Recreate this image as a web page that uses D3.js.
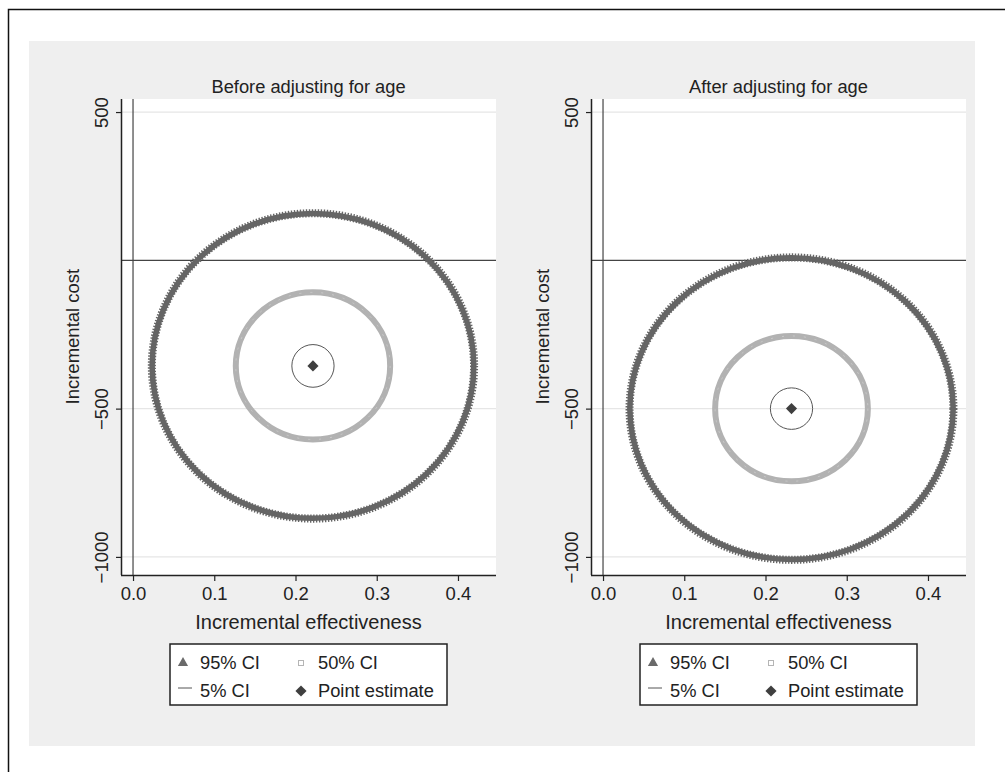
<!DOCTYPE html>
<html>
<head>
<meta charset="utf-8">
<script src="https://cdn.jsdelivr.net/npm/d3@7"></script>
<style>
  body { margin: 0; background: #fff; }
  text { font-family: "Liberation Sans", Arial, sans-serif; fill: #222; }
</style>
</head>
<body>
<script>
// data
const panelTitles = ["Before adjusting for age", "After adjusting for age"];
const pointX = [0.2215, 0.232];
const pointY = [-356, -500];
const ci95RadX = [0.198, 0.199];
const ci95RadY = [514, 509];
const ci50RadX = [0.095, 0.094];
const ci50RadY = [248, 245];
const ci5RadX = [0.026, 0.026];
const ci5RadY = [72, 70];
const xTicks = [0.0, 0.1, 0.2, 0.3, 0.4];
const yTicks = [500, -500, -1000];
const legendLabels = ["95% CI", "50% CI", "5% CI", "Point estimate"];

const w = 1005;
const h = 772;

const svg = d3.select("body")
              .append("svg")
              .attr("width", w)
              .attr("height", h);

// outer frame + grey graph region
svg.append("path")
   .attr("d", "M8.5,780 L8.5,9.5 L1010,9.5")
   .attr("fill", "none")
   .attr("stroke", "#111")
   .attr("stroke-width", 1.5);

svg.append("rect")
   .attr("x", 29).attr("y", 41)
   .attr("width", 946).attr("height", 705)
   .attr("fill", "#efefef");

const pw = 375;
const ph = 476;
const offsets = [121, 591];
const plotTop = 99;

// rotated square = stata diamond
const diamond = d3.symbol().type(d3.symbolSquare).size(62);

function drawPanel(i) {
   const left = offsets[i];
   const g = svg.append("g").attr("transform", `translate(${left}, ${plotTop})`);

   const x = d3.scaleLinear().domain([-0.0148, 0.4468]).range([0, pw]);
   const y = d3.scaleLinear().domain([-1061, 544]).range([ph, 0]);

   g.append("rect")
    .attr("width", pw).attr("height", ph)
    .attr("fill", "#fff");

   // grid lines
   g.selectAll(".grid")
    .data(yTicks)
    .enter()
    .append("line")
    .attr("x1", 0).attr("x2", pw)
    .attr("y1", d => y(d)).attr("y2", d => y(d))
    .attr("stroke", "#e6e6e6")
    .attr("stroke-width", 1.2);

   // reference lines at 0
   g.append("line")
    .attr("x1", 0).attr("x2", pw)
    .attr("y1", y(0)).attr("y2", y(0))
    .attr("stroke", "#444").attr("stroke-width", 1.2);
   g.append("line")
    .attr("x1", x(0)).attr("x2", x(0))
    .attr("y1", 0).attr("y2", ph)
    .attr("stroke", "#444").attr("stroke-width", 1.2);

   const cx = x(pointX[i]);
   const cy = y(pointY[i]);
   const kx = x(1) - x(0);
   const ky = y(0) - y(1);

   // 95% ring: solid band plus serrated edges
   g.append("ellipse")
    .attr("cx", cx).attr("cy", cy)
    .attr("rx", ci95RadX[i] * kx).attr("ry", ci95RadY[i] * ky)
    .attr("fill", "none")
    .attr("stroke", "#656565")
    .attr("stroke-width", 5.5);
   g.append("ellipse")
    .attr("cx", cx).attr("cy", cy)
    .attr("rx", ci95RadX[i] * kx + 2.8).attr("ry", ci95RadY[i] * ky + 2.8)
    .attr("fill", "none")
    .attr("stroke", "#656565")
    .attr("stroke-width", 3)
    .attr("stroke-dasharray", "1.4 1.6");
   g.append("ellipse")
    .attr("cx", cx).attr("cy", cy)
    .attr("rx", ci95RadX[i] * kx - 2.8).attr("ry", ci95RadY[i] * ky - 2.8)
    .attr("fill", "none")
    .attr("stroke", "#656565")
    .attr("stroke-width", 2)
    .attr("stroke-dasharray", "1.4 1.6");

   // 50% ring
   g.append("ellipse")
    .attr("cx", cx).attr("cy", cy)
    .attr("rx", ci50RadX[i] * kx).attr("ry", ci50RadY[i] * ky)
    .attr("fill", "none")
    .attr("stroke", "#b2b2b2")
    .attr("stroke-width", 6);
   g.append("ellipse")
    .attr("cx", cx).attr("cy", cy)
    .attr("rx", ci50RadX[i] * kx).attr("ry", ci50RadY[i] * ky)
    .attr("fill", "none")
    .attr("stroke", "#cacaca")
    .attr("stroke-width", 1)
    .attr("stroke-dasharray", "2 9");

   // 5% ring
   g.append("ellipse")
    .attr("cx", cx).attr("cy", cy)
    .attr("rx", ci5RadX[i] * kx).attr("ry", ci5RadY[i] * ky)
    .attr("fill", "none")
    .attr("stroke", "#555")
    .attr("stroke-width", 1);

   // point estimate
   g.append("path")
    .attr("d", diamond())
    .attr("transform", `translate(${cx}, ${cy}) rotate(45)`)
    .attr("fill", "#3f3f3f");

   // axes
   const xAxis = d3.axisBottom(x)
                   .tickValues(xTicks)
                   .tickSize(6)
                   .tickFormat(d3.format(".1f"));
   const gx = g.append("g")
               .attr("transform", `translate(0, ${ph})`)
               .call(xAxis);
   gx.select(".domain").attr("d", `M0,0.5H${pw}`).attr("stroke", "#222").attr("stroke-width", 1.5);
   gx.selectAll(".tick line").attr("stroke", "#222").attr("stroke-width", 1.2);
   gx.selectAll(".tick text")
     .attr("y", 12)
     .attr("dy", "0.71em")
     .style("font-size", "18.5px")
     .style("font-family", "Liberation Sans, Arial, sans-serif")
     .attr("fill", "#222");

   const yAxis = d3.axisLeft(y)
                   .tickValues(yTicks)
                   .tickSize(5)
                   .tickFormat(d => d < 0 ? "\u2212" + Math.abs(d) : d);
   const gy = g.append("g").call(yAxis);
   gy.select(".domain").attr("d", `M0.5,0V${ph}`).attr("stroke", "#222").attr("stroke-width", 1.5);
   gy.selectAll(".tick line").attr("stroke", "#222").attr("stroke-width", 1.2);
   gy.selectAll(".tick text")
     .attr("x", null).attr("dy", null)
     .attr("transform", "translate(-19, 0) rotate(-90)")
     .attr("text-anchor", "middle")
     .attr("y", 0)
     .attr("dy", "0.35em")
     .style("font-size", "18.5px")
     .style("font-family", "Liberation Sans, Arial, sans-serif")
     .attr("fill", "#222");

   // titles
   g.append("text")
    .text(panelTitles[i])
    .attr("x", pw / 2)
    .attr("y", -6)
    .attr("text-anchor", "middle")
    .attr("font-size", "18.3px");

   g.append("text")
    .text("Incremental effectiveness")
    .attr("x", pw / 2)
    .attr("y", ph + 54)
    .attr("text-anchor", "middle")
    .attr("font-size", "20px");

   g.append("text")
    .text("Incremental cost")
    .attr("transform", `translate(-48, ${(y(0) + y(-1000)) / 2 - 72}) rotate(-90)`)
    .attr("text-anchor", "middle")
    .attr("dy", "0.35em")
    .attr("font-size", "18.5px");

   // legend
   const lg = g.append("g").attr("transform", `translate(${49}, ${545})`);
   lg.append("rect")
     .attr("width", 277).attr("height", 61)
     .attr("fill", "#fff")
     .attr("stroke", "#222")
     .attr("stroke-width", 1.5);

   const cols = [13, 131];
   const rows = [19, 47];
   legendLabels.forEach((lab, j) => {
      const lx = cols[j % 2];
      const ly = rows[Math.floor(j / 2)];
      if (j === 0) {
         lg.append("path")
           .attr("d", d3.symbol().type(d3.symbolTriangle).size(45)())
           .attr("transform", `translate(${lx}, ${ly})`)
           .attr("fill", "#6a6a6a");
      } else if (j === 1) {
         lg.append("rect")
           .attr("x", lx - 2.5).attr("y", ly - 2.5)
           .attr("width", 5).attr("height", 5)
           .attr("fill", "none")
           .attr("stroke", "#b5b5b5");
      } else if (j === 2) {
         lg.append("line")
           .attr("x1", lx - 5).attr("x2", lx + 9)
           .attr("y1", ly - 3).attr("y2", ly - 3)
           .attr("stroke", "#555");
      } else {
         lg.append("path")
           .attr("d", diamond())
           .attr("transform", `translate(${lx}, ${ly}) rotate(45)`)
           .attr("fill", "#3f3f3f");
      }
      lg.append("text")
        .text(lab)
        .attr("x", lx + 17)
        .attr("y", ly)
        .attr("dy", "0.35em")
        .attr("font-size", "18.3px");
   });
}

drawPanel(0);
drawPanel(1);
</script>
</body>
</html>
